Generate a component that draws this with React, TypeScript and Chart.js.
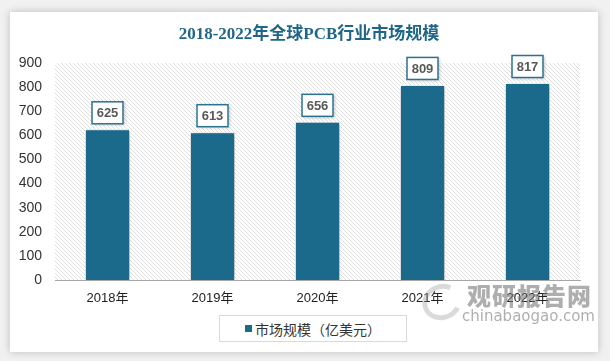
import React, { useEffect, useRef } from 'react';
import { Chart, registerables } from 'chart.js';

Chart.register(...registerables);

const titleText = '2018-2022年全球PCB行业市场规模';
const categories = ['2018年', '2019年', '2020年', '2021年', '2022年'];
const marketSize = [625, 613, 656, 809, 817];
const seriesName = '市场规模（亿美元）';
const yMin = 0;
const yMax = 900;
const yStep = 100;
const watermarkCn = '观研报告网';
const watermarkEn = 'chinabaogao.com';

const BAR = '#1b6a8c';

function makeHatch(): CanvasPattern | string {
  const c = document.createElement('canvas');
  c.width = 4;
  c.height = 4;
  const g = c.getContext('2d');
  if (!g) return '#f4f4f4';
  g.fillStyle = '#ffffff';
  g.fillRect(0, 0, 4, 4);
  g.strokeStyle = '#dedede';
  g.lineWidth = 1;
  g.beginPath();
  g.moveTo(-1, -1);
  g.lineTo(5, 5);
  g.moveTo(-1, 3);
  g.lineTo(1, 5);
  g.moveTo(3, -1);
  g.lineTo(5, 1);
  g.stroke();
  const p = g.createPattern(c, 'repeat');
  return p || '#f4f4f4';
}

const hatchPlugin = {
  id: 'hatchBg',
  beforeDraw(chart: any) {
    const { ctx, chartArea } = chart;
    ctx.save();
    ctx.fillStyle = makeHatch();
    ctx.fillRect(chartArea.left, chartArea.top, chartArea.right - chartArea.left, chartArea.bottom - chartArea.top);
    ctx.restore();
  },
};

const shadowPlugin = {
  id: 'barShadow',
  beforeDatasetsDraw(chart: any) {
    const ctx = chart.ctx;
    ctx.save();
    ctx.shadowColor = 'rgba(0,0,0,0.35)';
    ctx.shadowBlur = 4;
    ctx.shadowOffsetX = 1;
    ctx.shadowOffsetY = 1;
  },
  afterDatasetsDraw(chart: any) {
    chart.ctx.restore();
  },
};

const labelPlugin = {
  id: 'boxLabels',
  afterDatasetsDraw(chart: any) {
    const ctx = chart.ctx;
    const meta = chart.getDatasetMeta(0);
    const data = chart.data.datasets[0].data as number[];
    ctx.save();
    ctx.font = 'bold 13px "Liberation Sans", Arial, sans-serif';
    ctx.textAlign = 'center';
    ctx.textBaseline = 'middle';
    meta.data.forEach((el: any, i: number) => {
      const txt = String(data[i]);
      const w = Math.round(ctx.measureText(txt).width + 10);
      const h = 23;
      const x = el.x - w / 2;
      const y = el.y - 5 - h;
      ctx.save();
      ctx.shadowColor = 'rgba(0,0,0,0.25)';
      ctx.shadowBlur = 3;
      ctx.shadowOffsetX = 1;
      ctx.shadowOffsetY = 1;
      ctx.fillStyle = '#ffffff';
      ctx.fillRect(x, y, w, h);
      ctx.restore();
      ctx.strokeStyle = '#2b7192';
      ctx.lineWidth = 1.5;
      ctx.strokeRect(x + 0.5, y + 0.5, w - 1, h - 1);
      ctx.fillStyle = '#595959';
      ctx.fillText(txt, el.x, y + h / 2 + 1);
    });
    ctx.restore();
  },
};

export default function App() {
  const ref = useRef<HTMLCanvasElement | null>(null);

  useEffect(() => {
    if (!ref.current) return;
    const chart = new Chart(ref.current, {
      type: 'bar',
      data: {
        labels: categories,
        datasets: [
          {
            label: seriesName,
            data: marketSize,
            backgroundColor: BAR,
            borderColor: '#ffffff',
            borderWidth: 1,
            barPercentage: 0.43,
            categoryPercentage: 1,
          },
        ],
      },
      options: {
        animation: false,
        responsive: false,
        maintainAspectRatio: false,
        layout: { padding: { left: 7, right: 18, top: 51, bottom: 42 } },
        plugins: {
          legend: { display: false },
          title: { display: false },
          tooltip: { enabled: false },
        },
        scales: {
          x: {
            grid: { display: false, drawTicks: false },
            border: { display: true, color: '#a6a6a6', width: 1 },
            ticks: {
              padding: 11,
              color: '#222222',
              font: { size: 13, family: '"Liberation Sans", Arial, "Noto Sans CJK SC", sans-serif' },
              maxRotation: 0,
            },
            afterFit: (s: any) => {
              s.height = 30;
            },
          },
          y: {
            min: yMin,
            max: yMax,
            grid: { display: false, drawTicks: false },
            border: { display: false },
            ticks: {
              stepSize: yStep,
              padding: 13,
              color: '#333333',
              font: { size: 14, family: '"Liberation Sans", Arial, sans-serif' },
            },
            afterFit: (s: any) => {
              s.width = 38;
            },
          },
        },
      },
      plugins: [hatchPlugin, shadowPlugin, labelPlugin],
    });
    return () => chart.destroy();
  }, []);

  return (
    <div
      style={{
        position: 'fixed',
        left: 0,
        top: 0,
        width: 610,
        height: 361,
        background: '#f1f1f1',
        overflow: 'hidden',
      }}
    >
      <div
        style={{
          position: 'absolute',
          left: 10,
          top: 12,
          width: 588,
          height: 340,
          background: '#ffffff',
          boxShadow: '0 0 8px rgba(0,0,0,0.22)',
        }}
      >
        <canvas ref={ref} width={588} height={340} style={{ display: 'block', width: 588, height: 340 }} />
        <div
          style={{
            position: 'absolute',
            left: 0,
            width: 588,
            top: 11,
            textAlign: 'center',
            paddingLeft: 10,
            boxSizing: 'border-box',
            fontFamily: '"Liberation Serif", "Noto Sans CJK SC", serif',
            fontWeight: 'bold',
            fontSize: 17,
            lineHeight: '22px',
            color: '#1f6688',
          }}
        >
          {titleText}
        </div>
        <div
          style={{
            position: 'absolute',
            left: 209,
            top: 303,
            width: 188,
            height: 27,
            border: '1px solid #d9d9d9',
            boxSizing: 'border-box',
            display: 'flex',
            alignItems: 'center',
            justifyContent: 'center',
            fontFamily: '"Noto Sans CJK SC", sans-serif',
            fontSize: 14,
            color: '#333333',
            background: '#ffffff',
          }}
        >
          <span style={{ display: 'inline-block', width: 7, height: 7, background: BAR, marginRight: 3 }} />
          <span>{seriesName}</span>
        </div>
        <div
          style={{
            position: 'absolute',
            left: 412,
            top: 272,
            width: 40,
            height: 36,
            borderRadius: '50%',
            border: '5px solid rgba(150,150,150,0.35)',
            borderRightColor: 'transparent',
            boxSizing: 'border-box',
            transform: 'rotate(-20deg)',
            pointerEvents: 'none',
          }}
        />
        <div
          style={{
            position: 'absolute',
            left: 452,
            top: 270,
            width: 130,
            pointerEvents: 'none',
            color: 'rgba(120,120,120,0.6)',
            fontFamily: '"Noto Sans CJK SC", sans-serif',
            textAlign: 'right',
          }}
        >
          <div style={{ fontSize: 24, fontWeight: 900, lineHeight: '26px', letterSpacing: 1 }}>{watermarkCn}</div>
          <div style={{ fontSize: 15, lineHeight: '16px', fontFamily: '"DejaVu Sans", sans-serif' }}>{watermarkEn}</div>
        </div>
      </div>
    </div>
  );
}
